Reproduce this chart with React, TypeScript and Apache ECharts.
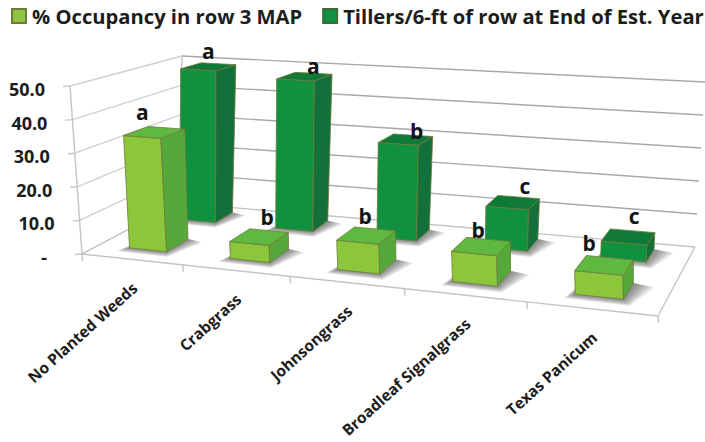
import React, { useEffect, useRef } from "react";
import * as echarts from "echarts";

const categories = ["No Planted Weeds", "Crabgrass", "Johnsongrass", "Broadleaf Signalgrass", "Texas Panicum"];
const occupancy = [34, 5, 8.5, 8.5, 6.5];
const tillers = [49, 47.5, 29.5, 12.5, 5];
const occupancyLetters = ["a", "b", "b", "b", "b"];
const tillersLetters = ["a", "a", "b", "c", "c"];
const valueTicks = [0, 10, 20, 30, 40, 50];

const OCC = "% Occupancy in row 3 MAP";
const TIL = "Tillers/6-ft of row at End of Est. Year";
const FONT = '"Open Sans", "Noto Sans", sans-serif';

// letter nudges relative to the bar-top centre
const occNudge = [[-12, -20], [8, -20], [-1, -20], [-3, -16], [-15, -22]];
const tilNudge = [[0, -16], [9, -11], [11, -9], [12, -16], [6, -21]];

// projection of the 3D box
const FLB = [82, 254], FRB = [658, 316], BLB = [178, 203], BRB = [695, 247];
const FLT = [70, 86], FRT = [652, 126], BLT = [182, 56], BRT = [705, 82];
const K = 1.179;
const lerp = (a: number, b: number, s: number) => a + (b - a) * s;
const warp = (t: number) => t / (t + K * (1 - t));
function project(t: number, d: number, v: number): number[] {
  const f = warp(t);
  const out = [0, 0];
  for (let i = 0; i < 2; i++) {
    const bottom = lerp(lerp(FLB[i], FRB[i], f), lerp(BLB[i], BRB[i], f), d);
    const top = lerp(lerp(FLT[i], FRT[i], f), lerp(BLT[i], BRT[i], f), d);
    out[i] = lerp(bottom, top, v);
  }
  return out;
}

const BAR_W = 0.375; // share of a category band
const SHADOW_STEPS = [1, 0.8, 0.6, 0.4, 0.2]; // soft floor shadow, widest first

function barItem(
  params: any, api: any,
  rowD0: number, rowD1: number,
  cols: { front: string; side: string; top: string },
  letters: string[], nudges: number[][]
) {
  const cs = params.coordSys;
  const i = api.value(0);
  const val = api.value(1);
  const c = api.coord([i, val]);
  const band = api.size([1, 0])[0];
  const tc = (c[0] - cs.x) / cs.width;
  const v = (cs.y + cs.height - c[1]) / cs.height;
  const hw = (band * BAR_W) / 2 / cs.width;
  const t0 = tc - hw, t1 = tc + hw;
  const P = (t: number, d: number, h: number) => project(t, d, h);
  const stroke = "#6f7a3a";
  const poly = (pts: number[][], fill: string) => ({
    type: "polygon",
    shape: { points: pts },
    style: { fill, stroke, lineWidth: 0.8 },
  });
  const topC = P(tc, (rowD0 + rowD1) / 2, v);
  const [nx, ny] = nudges[params.dataIndex];
  const shadows = SHADOW_STEPS.map((s) => ({
    type: "polygon",
    shape: {
      points: [
        P(t0 - 0.012 * s, rowD0 - 0.07 * s, 0),
        P(t1 + 0.014 * s, rowD0 - 0.08 * s, 0),
        P(t1 + 0.034 * s, rowD1 - 0.03 * s, 0),
        P(t1, rowD1, 0),
        P(t0, rowD1, 0),
      ],
    },
    style: { fill: "rgba(70,70,70,0.16)" },
  }));
  return {
    type: "group",
    children: [
      ...shadows,
      poly([P(t0, rowD0, 0), P(t1, rowD0, 0), P(t1, rowD0, v), P(t0, rowD0, v)], cols.front),
      poly([P(t1, rowD0, 0), P(t1, rowD1, 0), P(t1, rowD1, v), P(t1, rowD0, v)], cols.side),
      poly([P(t0, rowD0, v), P(t1, rowD0, v), P(t1, rowD1, v), P(t0, rowD1, v)], cols.top),
      {
        type: "text",
        style: {
          text: letters[params.dataIndex],
          x: topC[0] + nx,
          y: topC[1] + ny,
          align: "center",
          verticalAlign: "middle",
          fontFamily: FONT,
          fontWeight: "bold",
          fontSize: 21,
          fill: "#141414",
        },
      },
    ],
  };
}

const LINE = "#c4c4c4";
const lineEl = (a: number[], b: number[], stroke = LINE, lineWidth = 1.4) => ({
  type: "line",
  shape: { x1: a[0], y1: a[1], x2: b[0], y2: b[1] },
  style: { stroke, lineWidth },
});

export default function App() {
  const ref = useRef<HTMLDivElement>(null);
  useEffect(() => {
    const chart = echarts.init(ref.current!, undefined, { renderer: "svg" });
    chart.setOption({
      animation: false,
      backgroundColor: "#ffffff",
      legend: {
        data: [OCC, TIL],
        left: 11,
        top: 6,
        itemWidth: 14,
        itemHeight: 14,
        itemGap: 20,
        icon: "rect",
        selectedMode: false,
        padding: 0,
        textStyle: { fontFamily: FONT, fontWeight: "bold", fontSize: 20.2, color: "#1c1c1c", padding: [0, 0, 0, 1] },
      },
      grid: { left: 82, top: 86, width: 576, height: 168, containLabel: false },
      xAxis: { type: "category", data: categories, show: false, boundaryGap: true },
      yAxis: { type: "value", min: 0, max: 50, interval: 10, show: false },
      series: [
        {
          // gridlines and value labels of the box
          name: "grid",
          type: "custom",
          coordinateSystem: "cartesian2d",
          z: 1,
          silent: true,
          data: valueTicks.map((v) => [0, v]),
          encode: { x: 0, y: 1 },
          renderItem: (params: any, api: any) => {
            const cs = params.coordSys;
            const val = api.value(1);
            const v = (cs.y + cs.height - api.coord([0, val])[1]) / cs.height;
            const a = project(0, 0, v), b = project(0, 1, v), c = project(1, 1, v);
            return {
              type: "group",
              children: [
                lineEl([a[0] - 7, a[1] + 0.5], a, "#c8c8c8"),
                lineEl(a, b, "#d0d0d0"),
                lineEl(b, c, val === 0 ? "#c4c4c4" : "#a8a8a8"),
                {
                  type: "text",
                  style: {
                    text: val === 0 ? "-" : val.toFixed(1),
                    x: a[0] - (val === 0 ? 35 : 25),
                    y: a[1] + 3,
                    align: "right",
                    verticalAlign: "middle",
                    fontFamily: FONT,
                    fontWeight: "bold",
                    fontSize: 18,
                    fill: "#1c1c1c",
                  },
                },
              ],
            };
          },
        },
        {
          // floor edges, walls' uprights, ticks and category labels
          name: "floor",
          type: "custom",
          coordinateSystem: "cartesian2d",
          z: 1,
          silent: true,
          data: categories.map((_, i) => [i, 0]),
          encode: { x: 0, y: 1 },
          renderItem: (params: any, api: any) => {
            const cs = params.coordSys;
            const i = api.value(0);
            const c = api.coord([i, 0]);
            const band = api.size([1, 0])[0];
            const tc = (c[0] - cs.x) / cs.width;
            const tr = tc + band / 2 / cs.width;
            const right = project(tr, 0, 0);
            const anchor = project(tc, 0, 0);
            const children: any[] = [
              lineEl(right, [right[0] + 0.5, right[1] + 7]),
              {
                type: "text",
                x: anchor[0] + 3,
                y: anchor[1] + 26,
                rotation: (42 * Math.PI) / 180,
                style: {
                  text: categories[params.dataIndex],
                  x: 0,
                  y: 0,
                  align: "right",
                  verticalAlign: "middle",
                  fontFamily: FONT,
                  fontWeight: "bold",
                  fontSize: 15.5,
                  fill: "#1c1c1c",
                },
              },
            ];
            if (params.dataIndex === 0) {
              children.push(
                lineEl(FLB, FRB), lineEl(FLB, BLB), lineEl(FRB, BRB),
                lineEl(FLB, FLT), lineEl(BLB, BLT), lineEl(FLB, [FLB[0] + 0.5, FLB[1] + 7])
              );
            }
            return { type: "group", children };
          },
        },
        {
          name: OCC,
          type: "custom",
          coordinateSystem: "cartesian2d",
          z: 4,
          silent: true,
          itemStyle: { color: "#8cc63f", borderColor: "#6f7a3a", borderWidth: 1 },
          data: occupancy.map((v, i) => [i, v]),
          encode: { x: 0, y: 1 },
          renderItem: (p: any, api: any) =>
            barItem(p, api, 0.18, 0.42, { front: "#8cc63a", side: "#55a93a", top: "#5fb840" }, occupancyLetters, occNudge),
        },
        {
          name: TIL,
          type: "custom",
          coordinateSystem: "cartesian2d",
          z: 3,
          silent: true,
          itemStyle: { color: "#10913f", borderColor: "#3f6b3a", borderWidth: 1 },
          data: tillers.map((v, i) => [i, v]),
          encode: { x: 0, y: 1 },
          renderItem: (p: any, api: any) =>
            barItem(p, api, 0.73, 0.92, { front: "#10913f", side: "#14703a", top: "#0f7a38" }, tillersLetters, tilNudge),
        },
      ],
    });
    return () => chart.dispose();
  }, []);
  return <div ref={ref} style={{ position: "fixed", left: 0, top: 0, width: 705, height: 442 }} />;
}
